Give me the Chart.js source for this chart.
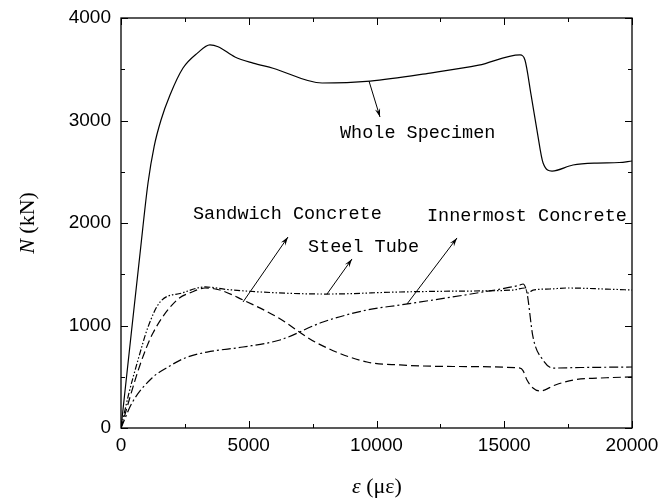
<!DOCTYPE html>
<html>
<head>
<meta charset="utf-8">
<script src="https://cdn.jsdelivr.net/npm/chart.js@4.4.0/dist/chart.umd.min.js"></script>
<style>
  html, body { margin: 0; padding: 0; background: #fff; }
  #wrap { width: 659px; height: 502px; }
</style>
</head>
<body>
<div id="wrap"><canvas id="chart"></canvas></div>
<script>
// strain (με) and axial load (kN)
const wholeStrain = [0, 400, 744, 1057, 1300, 1566, 1918, 2427, 3000, 3480, 3800, 4460, 5170, 5950, 7870, 9750, 12100, 14000, 15620, 15810, 16050, 16280, 16520, 16870, 17690, 18630, 19500, 20000];
const wholeLoad = [0, 920, 1700, 2390, 2750, 3005, 3249, 3512, 3660, 3737, 3720, 3620, 3560, 3510, 3366, 3385, 3463, 3540, 3640, 3590, 3250, 2907, 2585, 2507, 2566, 2585, 2590, 2605];

const steelStrain = [0, 300, 665, 1057, 1526, 2387, 3288, 4200, 6000, 8063, 10920, 13000, 15342, 15812, 15930, 16125, 16790, 17456, 19000, 20000];
const steelLoad = [0, 330, 663, 985, 1229, 1317, 1376, 1350, 1320, 1307, 1327, 1335, 1346, 1366, 1317, 1346, 1356, 1366, 1355, 1346];

const sandStrain = [0, 744, 1252, 2192, 2779, 3288, 3875, 4775, 6105, 7671, 9628, 10920, 13000, 15616, 15734, 15890, 16125, 16399, 17000, 17691, 19000, 20000];
const sandLoad = [0, 615, 927, 1249, 1327, 1366, 1346, 1249, 1083, 829, 644, 615, 600, 585, 560, 468, 390, 361, 420, 468, 490, 498];

const innerStrain = [0, 430, 1213, 1840, 2505, 3366, 4775, 6223, 7906, 9628, 10920, 12500, 14000, 15616, 15734, 15890, 16125, 16517, 16908, 18000, 20000];
const innerLoad = [0, 244, 488, 595, 683, 741, 790, 859, 1034, 1151, 1200, 1260, 1320, 1395, 1405, 1317, 888, 663, 585, 590, 595];

const xTicks = [0, 5000, 10000, 15000, 20000];
const yTicks = [0, 1000, 2000, 3000, 4000];

// annotation labels and their arrows, in data units
const labels = [
    { text: 'Whole Specimen', x: 8571, y: 2878 },
    { text: 'Sandwich Concrete', x: 2818, y: 2088 },
    { text: 'Steel Tube', x: 7319, y: 1766 },
    { text: 'Innermost Concrete', x: 11977, y: 2068 },
];
const arrows = [
    [9706, 3385, 10137, 3034],
    [4775, 1229, 6536, 1863],
    [8063, 1307, 9041, 1649],
    [11194, 1210, 13151, 1854],
];

const toPts = (xs, ys) => xs.map((x, i) => ({ x: x, y: ys[i] }));

function series(label, xs, ys, dash) {
    return {
        label: label,
        data: toPts(xs, ys),
        borderColor: '#000',
        borderWidth: 1.2,
        borderDash: dash,
        pointRadius: 0,
        fill: false,
        cubicInterpolationMode: 'monotone',
    };
}

// frame, inside ticks, axis titles, annotations
const decor = {
    id: 'decor',
    afterDraw(chart) {
        const ctx = chart.ctx;
        const a = chart.chartArea;
        const sx = chart.scales.x, sy = chart.scales.y;
        ctx.save();
        ctx.strokeStyle = '#000';
        ctx.lineWidth = 1.3;
        ctx.strokeRect(a.left, a.top, a.right - a.left, a.bottom - a.top);

        ctx.lineWidth = 1;
        ctx.beginPath();
        for (let v = 0; v <= 20000; v += 2500) {
            const px = Math.round(sx.getPixelForValue(v)) + 0.5;
            const len = v % 5000 === 0 ? 7 : 4;
            ctx.moveTo(px, a.bottom); ctx.lineTo(px, a.bottom - len);
            ctx.moveTo(px, a.top); ctx.lineTo(px, a.top + len);
        }
        for (let v = 0; v <= 4000; v += 500) {
            const py = Math.round(sy.getPixelForValue(v)) + 0.5;
            const len = v % 1000 === 0 ? 7 : 4;
            ctx.moveTo(a.left, py); ctx.lineTo(a.left + len, py);
            ctx.moveTo(a.right, py); ctx.lineTo(a.right - len, py);
        }
        ctx.stroke();

        // axis titles
        ctx.fillStyle = '#000';
        ctx.textBaseline = 'middle';
        ctx.textAlign = 'left';
        ctx.font = 'italic 22px "Liberation Serif"';
        const w1 = ctx.measureText('ε').width;
        ctx.font = '22px "Liberation Serif"';
        const w2 = ctx.measureText(' (με)').width;
        const x0 = 377 - (w1 + w2) / 2;
        ctx.font = 'italic 22px "Liberation Serif"';
        ctx.fillText('ε', x0, 487);
        ctx.font = '22px "Liberation Serif"';
        ctx.fillText(' (με)', x0 + w1, 487);

        ctx.save();
        ctx.translate(28, 223);
        ctx.rotate(-Math.PI / 2);
        ctx.font = 'italic 22px "Liberation Serif"';
        const n1 = ctx.measureText('N').width;
        ctx.font = '22px "Liberation Serif"';
        const n2 = ctx.measureText(' (kN)').width;
        const y0 = -(n1 + n2) / 2;
        ctx.font = 'italic 22px "Liberation Serif"';
        ctx.fillText('N', y0, 0);
        ctx.font = '22px "Liberation Serif"';
        ctx.fillText(' (kN)', y0 + n1, 0);
        ctx.restore();

        // annotations
        ctx.font = '18.5px "Liberation Mono"';
        labels.forEach(l => {
            ctx.fillText(l.text, sx.getPixelForValue(l.x), sy.getPixelForValue(l.y));
        });
        ctx.lineWidth = 1;
        arrows.forEach(ar => {
            const x1 = sx.getPixelForValue(ar[0]), y1 = sy.getPixelForValue(ar[1]);
            const x2 = sx.getPixelForValue(ar[2]), y2 = sy.getPixelForValue(ar[3]);
            ctx.beginPath();
            ctx.moveTo(x1, y1); ctx.lineTo(x2, y2);
            ctx.stroke();
            const ang = Math.atan2(y2 - y1, x2 - x1);
            const hl = 9, hw = 0.3;
            ctx.beginPath();
            ctx.moveTo(x2, y2);
            ctx.lineTo(x2 - hl * Math.cos(ang - hw), y2 - hl * Math.sin(ang - hw));
            ctx.lineTo(x2 - hl * 0.6 * Math.cos(ang), y2 - hl * 0.6 * Math.sin(ang));
            ctx.lineTo(x2 - hl * Math.cos(ang + hw), y2 - hl * Math.sin(ang + hw));
            ctx.closePath();
            ctx.fill();
        });
        ctx.restore();
    }
};

new Chart(document.getElementById('chart'), {
    type: 'line',
    data: {
        datasets: [
            series('Whole Specimen', wholeStrain, wholeLoad, []),
            series('Steel Tube', steelStrain, steelLoad, [6, 2, 1.5, 2, 1.5, 2]),
            series('Sandwich Concrete', sandStrain, sandLoad, [8, 4]),
            series('Innermost Concrete', innerStrain, innerLoad, [9, 3, 2, 3]),
        ]
    },
    plugins: [decor],
    options: {
        responsive: true,
        maintainAspectRatio: false,
        animation: false,
        layout: { padding: { top: 18, right: 27, left: 0, bottom: 0 } },
        plugins: {
            legend: { display: false },
            tooltip: { enabled: false },
        },
        scales: {
            x: {
                type: 'linear',
                min: 0,
                max: 20000,
                afterFit: s => { s.height = 74; s.paddingLeft = 0; s.paddingRight = 0; },
                afterBuildTicks: s => { s.ticks = xTicks.map(v => ({ value: v })); },
                grid: { display: false, drawTicks: false },
                border: { display: false },
                ticks: {
                    color: '#000',
                    padding: 6,
                    maxRotation: 0,
                    callback: v => String(v),
                    font: { family: '"Liberation Sans"', size: 19 },
                },
            },
            y: {
                type: 'linear',
                min: 0,
                max: 4000,
                afterFit: s => { s.width = 121; s.paddingTop = 0; s.paddingBottom = 0; },
                afterBuildTicks: s => { s.ticks = yTicks.map(v => ({ value: v })); },
                grid: { display: false, drawTicks: false },
                border: { display: false },
                ticks: {
                    color: '#000',
                    padding: 10,
                    callback: v => String(v),
                    font: { family: '"Liberation Sans"', size: 19 },
                },
            }
        }
    }
});
</script>
</body>
</html>
